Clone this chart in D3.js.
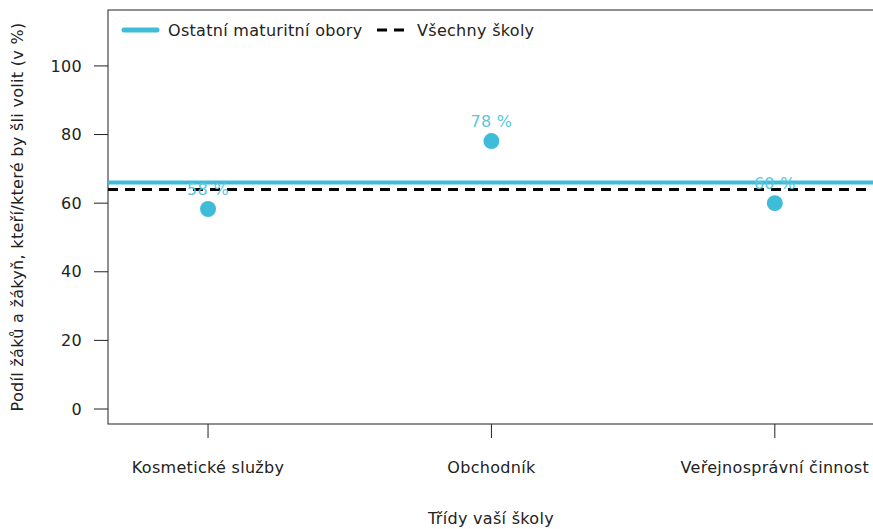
<!DOCTYPE html>
<html>
<head>
<meta charset="utf-8">
<script src="https://cdn.jsdelivr.net/npm/d3@7"></script>
<style>
  body { margin: 0; background: #fff; }
  text { font-family: "DejaVu Sans", sans-serif; fill: #222; letter-spacing: 0.3px; }
</style>
</head>
<body>
<div id="chart"></div>
<script>
const width = 873;
const height = 529;
const cyan = "#3fbdd8";
const fs = 16;

// data
const categories = ["Kosmetické služby", "Obchodník", "Veřejnosprávní činnost"];
const values = [58.3, 78.1, 60.0];
const labels = ["58 %", "78 %", "60 %"];
const groupLine = 66;     // Ostatní maturitní obory
const allSchools = 64;    // Všechny školy
const yTicks = [0, 20, 40, 60, 80, 100];

const pLeft = 108, pRight = 874, pTop = 10, pBottom = 424;

let svg = d3.select("#chart").append("svg")
    .attr("width", width).attr("height", height);

let x = d3.scaleLinear().domain([0.647, 3.35]).range([pLeft, pRight]);
let y = d3.scaleLinear().domain([-4.37, 116.3]).range([pBottom, pTop]);

// frame
svg.append("rect")
    .attr("x", pLeft).attr("y", pTop)
    .attr("width", pRight - pLeft).attr("height", pBottom - pTop)
    .attr("fill", "none").attr("stroke", "#222").attr("stroke-width", 1);

// y axis ticks
let yg = svg.append("g");
yg.selectAll("line").data(yTicks).enter().append("line")
    .attr("x1", pLeft - 14).attr("x2", pLeft)
    .attr("y1", d => y(d)).attr("y2", d => y(d))
    .attr("stroke", "#222");
yg.selectAll("text").data(yTicks).enter().append("text")
    .attr("x", pLeft - 26).attr("y", d => y(d))
    .attr("dy", "0.35em").attr("text-anchor", "end")
    .attr("font-size", fs)
    .text(d => d);

// x axis ticks
let xg = svg.append("g");
xg.selectAll("line").data(categories).enter().append("line")
    .attr("x1", (d, i) => x(i + 1)).attr("x2", (d, i) => x(i + 1))
    .attr("y1", pBottom).attr("y2", pBottom + 14)
    .attr("stroke", "#222");
xg.selectAll("text").data(categories).enter().append("text")
    .attr("x", (d, i) => x(i + 1)).attr("y", 473)
    .attr("text-anchor", "middle").attr("font-size", fs)
    .text(d => d);

// axis titles
svg.append("text")
    .attr("x", 491).attr("y", 524)
    .attr("text-anchor", "middle").attr("font-size", fs)
    .text("Třídy vaší školy");
svg.append("text")
    .attr("transform", "translate(23," + 217 + ") rotate(-90)")
    .attr("text-anchor", "middle").attr("font-size", fs)
    .text("Podíl žáků a žákyň, kteří/které by šli volit (v %)");

// reference lines
let plot = svg.append("g");
plot.append("line")
    .attr("x1", pLeft).attr("x2", pRight)
    .attr("y1", y(groupLine)).attr("y2", y(groupLine))
    .attr("stroke", cyan).attr("stroke-width", 4);
plot.append("line")
    .attr("x1", pLeft).attr("x2", pRight)
    .attr("y1", y(allSchools)).attr("y2", y(allSchools))
    .attr("stroke", "#000").attr("stroke-width", 3)
    .attr("stroke-dasharray", "10,7");

// points
plot.selectAll("circle").data(values).enter().append("circle")
    .attr("cx", (d, i) => x(i + 1)).attr("cy", d => y(d))
    .attr("r", 8).attr("fill", cyan);
plot.selectAll("text.lab").data(values).enter().append("text")
    .attr("class", "lab")
    .attr("x", (d, i) => x(i + 1)).attr("y", d => y(d) - 14)
    .attr("text-anchor", "middle").attr("font-size", fs)
    .style("fill", "#5cc6dd")
    .text((d, i) => labels[i]);

// legend
let lg = svg.append("g");
lg.append("line").attr("x1", 124).attr("x2", 157).attr("y1", 30).attr("y2", 30)
    .attr("stroke", cyan).attr("stroke-width", 5).attr("stroke-linecap", "round");
lg.append("text").attr("x", 168).attr("y", 30).attr("dy", "0.35em")
    .attr("font-size", fs).text("Ostatní maturitní obory");
lg.append("line").attr("x1", 377).attr("x2", 405).attr("y1", 30).attr("y2", 30)
    .attr("stroke", "#000").attr("stroke-width", 3).attr("stroke-dasharray", "10,7");
lg.append("text").attr("x", 417).attr("y", 30).attr("dy", "0.35em")
    .attr("font-size", fs).text("Všechny školy");
</script>
</body>
</html>
